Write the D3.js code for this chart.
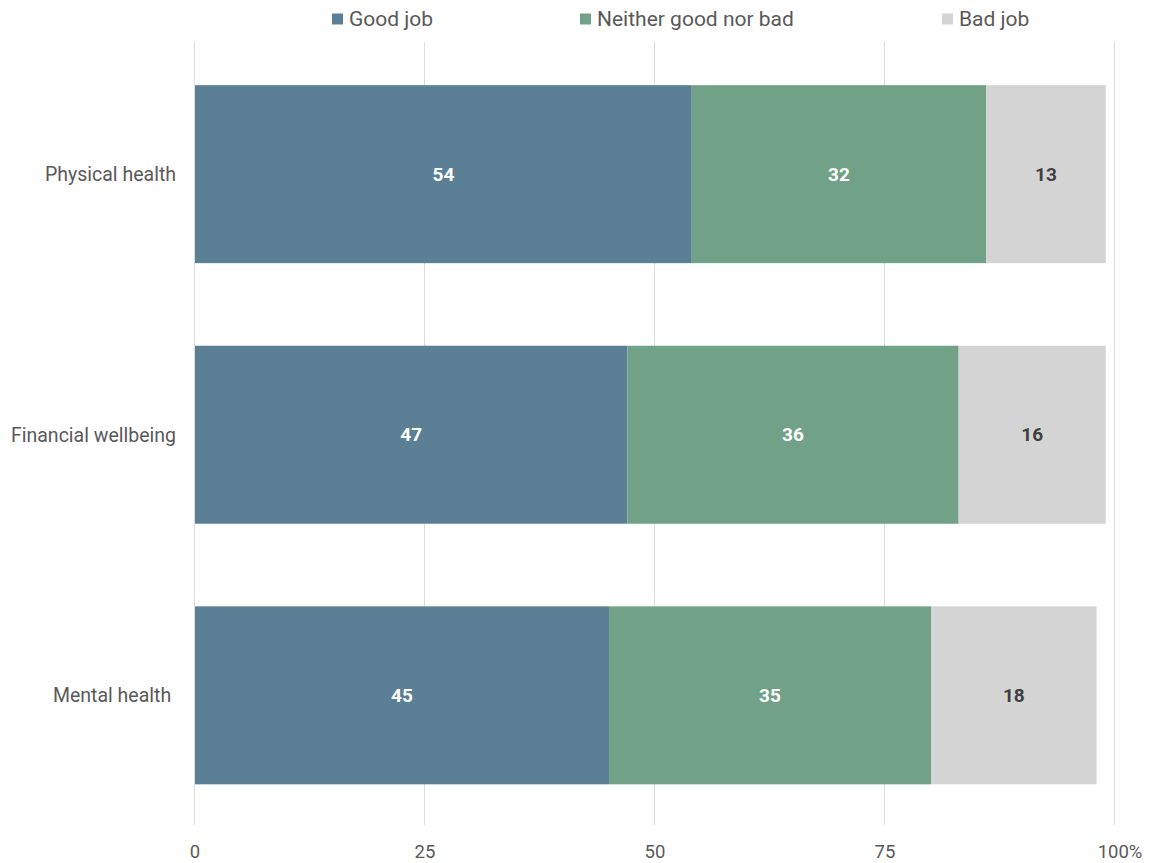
<!DOCTYPE html>
<html>
<head>
<meta charset="utf-8">
<script src="https://cdn.jsdelivr.net/npm/d3@7"></script>
<style>
  html, body { margin: 0; padding: 0; background: #fff; }
  svg { display: block; font-family: Roboto, "Noto Sans", sans-serif; }
  .cat { white-space: pre; }
</style>
</head>
<body>
<svg id="chart" width="1155" height="863"></svg>
<script>
// Survey categories and response shares (percent)
const categories = ["Physical health", "Financial wellbeing", "Mental health "];
const seriesNames = ["Good job", "Neither good nor bad", "Bad job"];
const goodJob = [54, 47, 45];
const neither = [32, 36, 35];
const badJob = [13, 16, 18];
const tickValues = [0, 25, 50, 75, 100];
const tickLabels = ["0", "25", "50", "75", "100%"];
const colors = ["#5b7f95", "#71a287", "#d4d4d4"];
const labelColors = ["#ffffff", "#ffffff", "#404040"];

const rows = categories.map((c, i) => ({
  category: c,
  "Good job": goodJob[i],
  "Neither good nor bad": neither[i],
  "Bad job": badJob[i]
}));

const svg = d3.select("#chart");
const margin = { left: 195, right: 40, top: 44, bottom: 37.5 };
const width = 1155, height = 863;

const x = d3.scaleLinear().domain([0, 100]).range([margin.left, 1115]);
const y = d3.scaleBand().domain(categories)
  .range([margin.top, height - margin.bottom])
  .paddingInner(0.317).paddingOuter(0.158);

// Vertical gridlines
svg.append("g").selectAll("line").data(tickValues).join("line")
  .attr("x1", d => x(d) - 0.5).attr("x2", d => x(d) - 0.5)
  .attr("y1", 42).attr("y2", 825)
  .attr("stroke", "#dcdcdc").attr("stroke-width", 1);

// Stacked bars
const stack = d3.stack().keys(seriesNames)(rows);
const layers = svg.append("g").selectAll("g").data(stack).join("g")
  .attr("fill", (d, i) => colors[i]);

layers.selectAll("rect").data(d => d).join("rect")
  .attr("x", d => x(d[0]))
  .attr("width", d => x(d[1]) - x(d[0]))
  .attr("y", d => y(d.data.category))
  .attr("height", y.bandwidth());

// Value labels inside each segment
layers.each(function(layer, i) {
  d3.select(this).selectAll("text").data(layer).join("text")
    .attr("x", d => (x(d[0]) + x(d[1])) / 2)
    .attr("y", d => y(d.data.category) + y.bandwidth() / 2)
    .attr("dy", "0.35em")
    .attr("text-anchor", "middle")
    .attr("font-size", 19)
    .attr("font-weight", "bold")
    .attr("fill", labelColors[i])
    .text(d => d[1] - d[0]);
});

// Category labels
svg.append("g").selectAll("text").data(categories).join("text")
  .attr("class", "cat")
  .attr("x", 176)
  .attr("y", d => y(d) + y.bandwidth() / 2)
  .attr("dy", "0.35em")
  .attr("text-anchor", "end")
  .attr("font-size", 19.5)
  .attr("fill", "#595959")
  .text(d => d);

// Bottom axis tick labels
svg.append("g").selectAll("text").data(tickValues).join("text")
  .attr("x", (d, i) => x(d) + (i === tickValues.length - 1 ? 5 : 0))
  .attr("y", 852)
  .attr("dy", "0.35em")
  .attr("text-anchor", "middle")
  .attr("font-size", 18.5)
  .attr("fill", "#595959")
  .text((d, i) => tickLabels[i]);

// Legend
const legendX = [332, 580, 942];
const legend = svg.append("g").selectAll("g").data(seriesNames).join("g")
  .attr("transform", (d, i) => `translate(${legendX[i]},19)`);
legend.append("rect").attr("x", 0).attr("y", -5.5).attr("width", 11).attr("height", 11)
  .attr("fill", (d, i) => colors[i]);
legend.append("text").attr("x", 17).attr("y", 0).attr("dy", "0.35em")
  .attr("font-size", 21).attr("fill", "#595959").text(d => d);
</script>
</body>
</html>
